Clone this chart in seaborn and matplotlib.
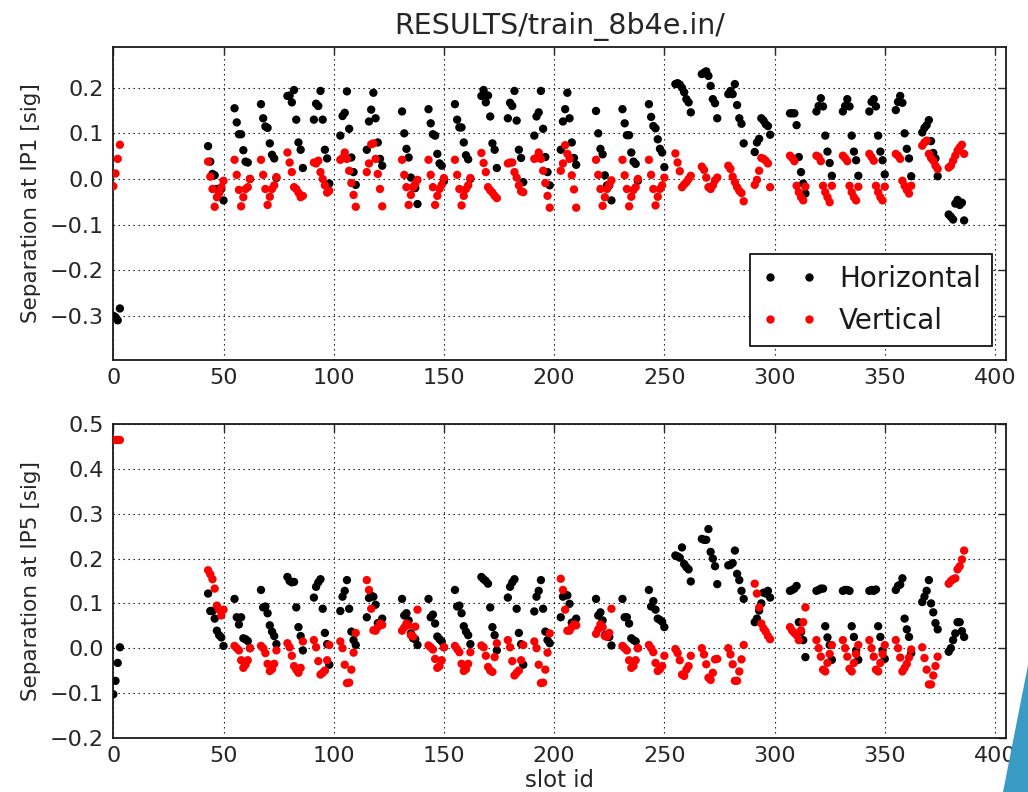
import numpy as np
import pandas as pd
import matplotlib
matplotlib.use("Agg")
import matplotlib.pyplot as plt
from matplotlib.lines import Line2D
from matplotlib.patches import Polygon
import seaborn as sns

# ---------------- data ----------------
TITLE = "RESULTS/train_8b4e.in/"
INITIAL_SLOTS = [0, 1, 2, 3]
TRAIN_STARTS = [43, 55, 67, 79, 91, 103, 115,
                131, 143, 155, 167, 179, 191, 203,
                219, 231, 243, 255, 267, 279, 291,
                307, 319, 331, 343, 355, 367, 379]
BUNCHES_PER_TRAIN = 8

ip1_h = [-0.300, -0.303, -0.310, -0.284,
         0.072, 0.038, 0.011, 0.008, -0.022, -0.029, -0.022, -0.047,
         0.155, 0.124, 0.098, 0.098, 0.063, 0.038, 0.036, 0.000,
         0.164, 0.133, 0.115, 0.112, 0.078, 0.053, 0.045, 0.002,
         0.182, 0.183, 0.168, 0.195, 0.130, 0.080, 0.064, 0.024,
         0.130, 0.165, 0.160, 0.193, 0.130, 0.064, 0.045, -0.010,
         0.095, 0.138, 0.145, 0.192, 0.110, 0.047, 0.015, -0.013,
         0.064, 0.126, 0.152, 0.189, 0.133, 0.080, 0.044, 0.029,
         0.148, 0.100, 0.066, 0.047, 0.003, -0.018, -0.020, -0.055,
         0.153, 0.122, 0.098, 0.095, 0.055, 0.034, 0.029, -0.005,
         0.164, 0.130, 0.113, 0.113, 0.080, 0.052, 0.043, 0.000,
         0.182, 0.195, 0.168, 0.183, 0.137, 0.078, 0.064, 0.024,
         0.133, 0.167, 0.160, 0.193, 0.128, 0.064, 0.046, -0.007,
         0.095, 0.137, 0.146, 0.193, 0.110, 0.048, 0.015, -0.014,
         0.064, 0.126, 0.153, 0.189, 0.133, 0.080, 0.046, 0.031,
         0.149, 0.100, 0.066, 0.054, 0.008, -0.014, -0.014, -0.047,
         0.153, 0.122, 0.096, 0.096, 0.058, 0.038, 0.033, -0.004,
         0.164, 0.136, 0.116, 0.111, 0.087, 0.066, 0.058, 0.026,
         0.208, 0.210, 0.207, 0.200, 0.190, 0.175, 0.168, 0.146,
         0.230, 0.233, 0.236, 0.226, 0.204, 0.175, 0.166, 0.133,
         0.186, 0.193, 0.186, 0.208, 0.162, 0.133, 0.121, 0.078,
         0.059, 0.080, 0.088, 0.133, 0.128, 0.120, 0.116, 0.097,
         0.144, 0.144, 0.144, 0.118, 0.048, 0.015, -0.010, -0.032,
         0.148, 0.160, 0.177, 0.159, 0.095, 0.060, 0.035, 0.007,
         0.148, 0.160, 0.175, 0.159, 0.095, 0.060, 0.041, 0.007,
         0.148, 0.169, 0.175, 0.159, 0.095, 0.060, 0.041, 0.010,
         0.151, 0.169, 0.182, 0.167, 0.100, 0.066, 0.045, 0.006,
         0.102, 0.112, 0.118, 0.129, 0.083, 0.057, 0.045, 0.006,
         -0.078, -0.083, -0.089, -0.054, -0.046, -0.057, -0.052, -0.091]

ip1_v = [-0.016, 0.012, 0.044, 0.075,
         0.038, 0.005, -0.022, -0.061, -0.040, -0.031, -0.018, -0.004,
         0.042, 0.009, -0.024, -0.060, -0.040, -0.022, -0.018, 0.000,
         0.042, 0.009, -0.022, -0.057, -0.039, -0.022, -0.014, 0.004,
         0.058, 0.036, 0.015, -0.018, -0.022, -0.030, -0.040, -0.037,
         0.036, 0.034, 0.040, 0.015, 0.000, -0.014, -0.030, -0.026,
         0.042, 0.046, 0.058, 0.044, 0.018, -0.009, -0.035, -0.061,
         0.015, 0.034, 0.076, 0.078, 0.044, 0.011, -0.022, -0.060,
         0.042, 0.009, -0.018, -0.057, -0.035, -0.018, -0.011, -0.002,
         0.042, 0.009, -0.018, -0.057, -0.037, -0.022, -0.013, 0.002,
         0.042, 0.009, -0.022, -0.058, -0.037, -0.022, -0.014, 0.002,
         0.057, 0.035, 0.015, -0.018, -0.025, -0.030, -0.037, -0.042,
         0.034, 0.036, 0.036, 0.015, 0.003, -0.014, -0.027, -0.029,
         0.044, 0.046, 0.058, 0.044, 0.018, -0.009, -0.037, -0.063,
         0.018, 0.034, 0.074, 0.055, 0.044, 0.008, -0.023, -0.063,
         0.042, 0.009, -0.022, -0.059, -0.040, -0.022, -0.012, -0.003,
         0.042, 0.008, -0.022, -0.060, -0.039, -0.024, -0.018, 0.000,
         0.042, 0.009, -0.022, -0.058, -0.039, -0.022, -0.014, 0.003,
         0.056, 0.036, 0.017, -0.018, -0.012, -0.007, 0.000, 0.007,
         0.027, 0.020, 0.003, -0.018, -0.022, -0.014, -0.003, 0.003,
         0.029, 0.022, 0.005, -0.007, -0.018, -0.026, -0.031, -0.049,
         -0.013, -0.002, 0.018, 0.046, 0.044, 0.040, 0.034, -0.018,
         0.051, 0.046, 0.039, -0.015, -0.029, -0.040, -0.047, -0.017,
         0.051, 0.048, 0.039, -0.015, -0.029, -0.040, -0.051, -0.015,
         0.051, 0.046, 0.039, -0.015, -0.029, -0.040, -0.047, -0.017,
         0.055, 0.048, 0.040, -0.015, -0.029, -0.040, -0.047, -0.017,
         0.055, 0.051, 0.044, -0.004, -0.015, -0.024, -0.032, -0.015,
         0.073, 0.080, 0.084, 0.055, 0.046, 0.040, 0.029, 0.022,
         0.025, 0.029, 0.040, 0.051, 0.062, 0.069, 0.075, 0.055]

ip5_h = [-0.103, -0.073, -0.033, 0.002,
         0.122, 0.083, 0.083, 0.066, 0.039, 0.029, 0.024, 0.005,
         0.110, 0.069, 0.053, 0.069, 0.022, 0.020, 0.016, 0.000,
         0.130, 0.091, 0.093, 0.078, 0.051, 0.037, 0.027, 0.009,
         0.159, 0.150, 0.147, 0.148, 0.091, 0.047, 0.027, -0.005,
         0.113, 0.137, 0.147, 0.154, 0.088, 0.034, 0.009, -0.037,
         0.083, 0.115, 0.128, 0.152, 0.088, 0.037, 0.018, 0.007,
         0.069, 0.112, 0.117, 0.115, 0.097, 0.056, 0.055, 0.066,
         0.110, 0.073, 0.078, 0.062, 0.033, 0.022, 0.020, 0.007,
         0.110, 0.069, 0.075, 0.055, 0.026, 0.020, 0.015, 0.002,
         0.130, 0.093, 0.095, 0.078, 0.049, 0.037, 0.029, 0.009,
         0.159, 0.154, 0.150, 0.144, 0.091, 0.047, 0.029, -0.005,
         0.113, 0.137, 0.147, 0.154, 0.088, 0.034, 0.009, -0.037,
         0.082, 0.115, 0.128, 0.152, 0.088, 0.037, 0.018, 0.011,
         0.069, 0.115, 0.120, 0.118, 0.099, 0.057, 0.055, 0.066,
         0.110, 0.073, 0.080, 0.062, 0.029, 0.026, 0.025, 0.006,
         0.110, 0.069, 0.069, 0.055, 0.022, 0.018, 0.015, 0.000,
         0.130, 0.093, 0.105, 0.086, 0.066, 0.063, 0.059, 0.047,
         0.207, 0.205, 0.202, 0.225, 0.188, 0.181, 0.176, 0.149,
         0.244, 0.242, 0.242, 0.266, 0.215, 0.200, 0.183, 0.143,
         0.185, 0.186, 0.190, 0.218, 0.166, 0.152, 0.128, 0.110,
         0.058, 0.066, 0.084, 0.100, 0.124, 0.122, 0.128, 0.113,
         0.128, 0.130, 0.133, 0.139, 0.058, 0.036, 0.018, -0.020,
         0.128, 0.130, 0.133, 0.133, 0.049, 0.024, 0.007, -0.026,
         0.128, 0.130, 0.130, 0.128, 0.049, 0.025, -0.005, -0.026,
         0.128, 0.130, 0.128, 0.131, 0.049, 0.025, -0.005, -0.024,
         0.130, 0.139, 0.142, 0.156, 0.066, 0.042, 0.025, -0.011,
         0.103, 0.115, 0.128, 0.152, 0.100, 0.080, 0.056, 0.042,
         -0.008, 0.000, 0.018, 0.033, 0.058, 0.058, 0.038, 0.025]

ip5_v = [0.465, 0.465, 0.465, 0.465,
         0.174, 0.165, 0.154, 0.133, 0.095, 0.086, 0.073, 0.086,
         0.005, 0.000, -0.005, -0.027, -0.044, -0.037, -0.027, 0.000,
         0.005, 0.000, -0.011, -0.035, -0.051, -0.047, -0.035, -0.005,
         0.011, 0.002, -0.017, -0.040, -0.048, -0.055, -0.044, 0.015,
         0.018, 0.002, -0.029, -0.059, -0.055, -0.050, -0.027, 0.007,
         0.015, 0.000, -0.037, -0.078, -0.077, -0.048, -0.010, 0.034,
         0.152, 0.130, 0.088, 0.040, 0.039, 0.047, 0.055, 0.052,
         0.039, 0.046, 0.055, 0.051, 0.029, 0.026, 0.048, 0.086,
         0.006, 0.002, -0.003, -0.024, -0.044, -0.040, -0.027, 0.002,
         0.005, -0.002, -0.009, -0.035, -0.051, -0.047, -0.035, -0.009,
         0.006, 0.002, -0.017, -0.042, -0.050, -0.053, -0.020, 0.011,
         0.018, 0.002, -0.029, -0.061, -0.055, -0.050, -0.027, 0.007,
         0.015, 0.000, -0.037, -0.078, -0.077, -0.048, -0.010, 0.033,
         0.155, 0.130, 0.086, 0.039, 0.039, 0.047, 0.053, 0.051,
         0.032, 0.042, 0.053, 0.047, 0.027, 0.026, 0.034, 0.088,
         0.005, 0.000, -0.005, -0.027, -0.044, -0.040, -0.027, 0.000,
         0.007, 0.000, -0.009, -0.033, -0.051, -0.047, -0.040, -0.017,
         -0.002, -0.011, -0.027, -0.059, -0.062, -0.048, -0.040, -0.017,
         0.000, -0.014, -0.036, -0.066, -0.071, -0.055, -0.025, -0.024,
         0.000, -0.014, -0.036, -0.073, -0.073, -0.052, -0.025, 0.007,
         0.144, 0.122, 0.091, 0.055, 0.044, 0.037, 0.027, 0.020,
         0.047, 0.039, 0.034, 0.029, 0.018, 0.040, 0.058, 0.091,
         0.018, 0.000, -0.019, -0.048, -0.052, -0.033, -0.013, 0.007,
         0.018, 0.000, -0.019, -0.046, -0.052, -0.033, -0.013, 0.007,
         0.018, 0.000, -0.019, -0.048, -0.052, -0.033, -0.013, 0.007,
         0.018, 0.000, -0.021, -0.052, -0.044, -0.035, -0.021, -0.003,
         0.002, -0.022, -0.048, -0.081, -0.081, -0.061, -0.040, -0.019,
         0.144, 0.150, 0.154, 0.156, 0.176, 0.183, 0.198, 0.218]

SERIES = ["Horizontal", "Vertical"]
COLORS = {"Horizontal": "#000000", "Vertical": "#ff0000"}
X_TICKS = [0, 50, 100, 150, 200, 250, 300, 350, 400]
Y1_TICKS = [-0.3, -0.2, -0.1, 0.0, 0.1, 0.2]
Y2_TICKS = [-0.2, -0.1, 0.0, 0.1, 0.2, 0.3, 0.4, 0.5]

# slot id of every bunch in the filling scheme
slots = list(INITIAL_SLOTS)
for s in TRAIN_STARTS:
    slots += [s + k for k in range(BUNCHES_PER_TRAIN)]


def frame(h, v):
    return pd.DataFrame({
        "slot": slots + slots,
        "sep": list(h) + list(v),
        "plane": ["Horizontal"] * len(h) + ["Vertical"] * len(v),
    })


df1 = frame(ip1_h, ip1_v)
df5 = frame(ip5_h, ip5_v)

# ---------------- style ----------------
sns.set_style("white")
plt.rcParams["font.family"] = ["DejaVu Sans"]
plt.rcParams["text.color"] = "#1a1a1a"

W, H = 1028, 792
fig = plt.figure(figsize=(W / 100, H / 100), dpi=100)
left, width = 113.3 / W, (1006 - 113.3) / W
ax1 = fig.add_axes([left, 1 - 360 / H, width, (360 - 46.7) / H])
ax2 = fig.add_axes([left, 1 - 737.7 / H, width, (737.7 - 424.3) / H])

TICK_COLOR = "#262626"
for ax, df in [(ax1, df1), (ax2, df5)]:
    sns.scatterplot(data=df, x="slot", y="sep", hue="plane",
                    palette=COLORS, hue_order=SERIES, s=36, linewidth=0,
                    legend=False, ax=ax, zorder=3)
    ax.set_xlim(0, 405)
    ax.set_xticks(X_TICKS)
    ax.grid(True, color="#000000", linestyle=(0, (1.2, 3.3)), linewidth=0.8)
    ax.set_axisbelow(True)
    for sp in ax.spines.values():
        sp.set_linewidth(1.3)
        sp.set_color("#1a1a1a")
    ax.tick_params(direction="in", top=True, right=True, length=6, width=1,
                   labelsize=16, colors=TICK_COLOR)
    ax.tick_params(axis="y", pad=7)
    ax.tick_params(axis="x", pad=6)

ax1.set_ylim(-0.397, 0.29)
ax1.set_yticks(Y1_TICKS)
ax1.set_yticklabels([f"{t:.1f}".replace("-", "\u2212") for t in Y1_TICKS])
ax2.set_ylim(-0.2, 0.5)
ax2.set_yticks(Y2_TICKS)
ax2.set_yticklabels([f"{t:.1f}".replace("-", "\u2212") for t in Y2_TICKS])

ax1.set_xlabel("")
ax1.set_ylabel("Separation at IP1 [sig]", fontsize=15.5, labelpad=6,
               color=TICK_COLOR)
ax2.set_ylabel("Separation at IP5 [sig]", fontsize=15.5, labelpad=6,
               color=TICK_COLOR)
ax2.set_xlabel("slot id", fontsize=16.5, labelpad=2, color=TICK_COLOR)
ax1.set_title(TITLE, fontsize=20.5, pad=9, color=TICK_COLOR)

handles = [Line2D([0, 1], [0, 0], marker="o", linestyle="none", markersize=6,
                  markeredgewidth=0, color=COLORS[n]) for n in SERIES]
leg = ax1.legend(handles, SERIES, loc="lower right", numpoints=2,
                 fontsize=20, frameon=True, fancybox=False, framealpha=1)
leg.get_frame().set_edgecolor("#000000")
leg.get_frame().set_linewidth(1.2)

# slide decoration in the lower-right corner
fig.patches.append(Polygon([(1003 / W, 0), (1, 0), (1, 1 - 665 / H)],
                           closed=True, transform=fig.transFigure,
                           facecolor="#3a9bc5", edgecolor="none"))

fig.savefig("out.png", dpi=100)
